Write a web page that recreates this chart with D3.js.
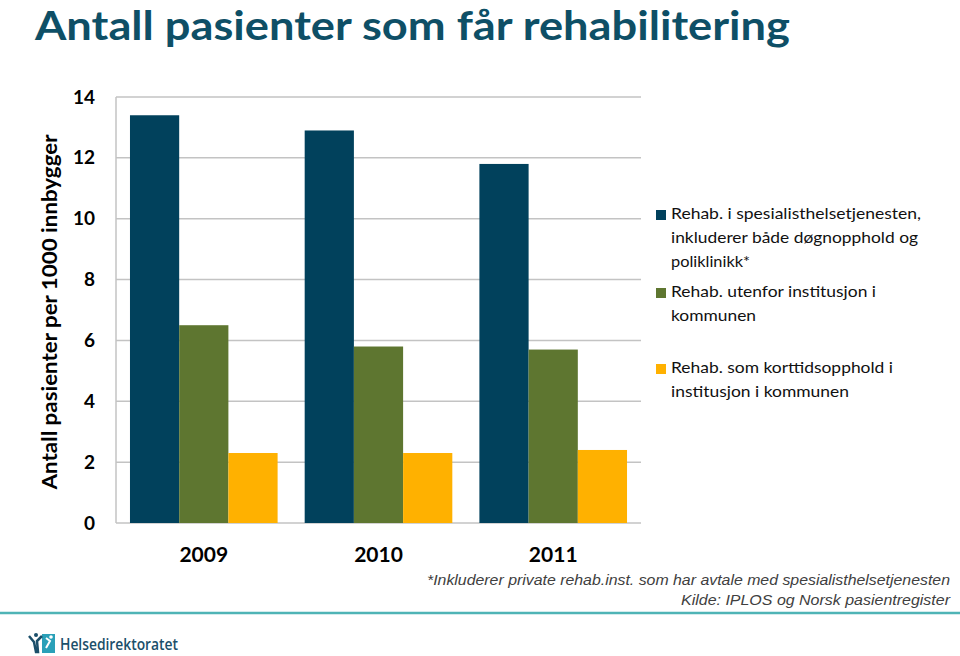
<!DOCTYPE html>
<html><head><meta charset="utf-8">
<script src="https://cdn.jsdelivr.net/npm/d3@7"></script>
<style>body{margin:0;background:#fff;}svg{display:block;}</style>
</head><body>
<svg id="c" width="960" height="656"></svg>
<script>
const years = ["2009", "2010", "2011"];
const seriesNames = ["spesialist", "utenfor", "korttid"];
const spesialist = [13.4, 12.9, 11.8];
const utenfor = [6.5, 5.8, 5.7];
const korttid = [2.3, 2.3, 2.4];
const yTicks = [0, 2, 4, 6, 8, 10, 12, 14];
const colors = ["#01415c", "#5e7630", "#ffb100"];
const legendLines = [
  ["Rehab. i spesialisthelsetjenesten,", "inkluderer både døgnopphold og", "poliklinikk*"],
  ["Rehab. utenfor institusjon i", "kommunen"],
  ["Rehab. som korttidsopphold i", "institusjon i kommunen"]
];
const title = "Antall pasienter som får rehabilitering";
const yTitle = "Antall pasienter per 1000 innbygger";
const notes = ["*Inkluderer private rehab.inst. som har avtale med spesialisthelsetjenesten", "Kilde: IPLOS og Norsk pasientregister"];

const values = [spesialist, utenfor, korttid];
const svg = d3.select("#c");

// title
svg.append("text").attr("x", 35).attr("y", 40)
  .attr("font-family", "Lato, 'Open Sans', sans-serif").attr("font-weight", "bold")
  .attr("font-size", 40).attr("fill", "#0e4f66")
  .attr("textLength", 755).attr("lengthAdjust", "spacingAndGlyphs")
  .text(title);

const L = 116, R = 641, T = 97, B = 523;
const y = d3.scaleLinear().domain([0, 14]).range([B, T]);
const x0 = d3.scaleBand().domain(years).range([L, R]).paddingInner(0.155).paddingOuter(0.08);
const x1 = d3.scaleBand().domain(seriesNames).range([0, x0.bandwidth()]);

// gridlines
const g = svg.append("g");
g.selectAll("line.grid").data(yTicks).join("line")
  .attr("x1", L).attr("x2", R).attr("y1", d => y(d)).attr("y2", d => y(d))
  .attr("stroke", "#c3c3c3").attr("stroke-width", 1.5);
g.append("line").attr("x1", L).attr("x2", L).attr("y1", T).attr("y2", B)
  .attr("stroke", "#c3c3c3").attr("stroke-width", 1.5);

// y axis labels
const yAxis = d3.axisLeft(y).tickValues(yTicks).tickSize(0).tickPadding(0);
const ya = svg.append("g").attr("transform", `translate(${95},0)`).call(yAxis);
ya.select(".domain").remove();
ya.selectAll("text").attr("font-family", "Lato, sans-serif").attr("font-weight", "bold")
  .attr("font-size", 19).attr("fill", "#000");

// x axis labels
const xAxis = d3.axisBottom(x0).tickSize(0).tickPadding(0);
const xa = svg.append("g").attr("transform", `translate(0,${547})`).call(xAxis);
xa.select(".domain").remove();
xa.selectAll("text").attr("font-family", "Lato, sans-serif").attr("font-weight", "bold")
  .attr("font-size", 21).attr("fill", "#000");

// bars
const groups = svg.append("g").selectAll("g").data(years).join("g")
  .attr("transform", d => `translate(${x0(d)},0)`);
groups.selectAll("rect").data((d, i) => seriesNames.map((s, j) => ({s, v: values[j][i], j})))
  .join("rect")
  .attr("x", d => x1(d.s)).attr("width", x1.bandwidth())
  .attr("y", d => y(d.v)).attr("height", d => y(0) - y(d.v))
  .attr("fill", d => colors[d.j]);

// y title
svg.append("text").attr("transform", "translate(57,312) rotate(-90)")
  .attr("text-anchor", "middle").attr("font-family", "Lato, sans-serif")
  .attr("font-weight", "bold").attr("font-size", 20).attr("fill", "#000")
  .attr("textLength", 355).attr("lengthAdjust", "spacingAndGlyphs")
  .text(yTitle);

// legend
const legY = [219, 297, 373];
const lineW = [[250, 247, 79], [205, 85], [222, 178]];
const leg = svg.append("g");
legendLines.forEach((lines, i) => {
  leg.append("rect").attr("x", 656).attr("y", legY[i] - 9).attr("width", 10).attr("height", 10).attr("fill", colors[i]);
  lines.forEach((t, k) => {
    leg.append("text").attr("x", 671).attr("y", legY[i] + k * 24)
      .attr("font-family", "Lato, 'Open Sans', sans-serif").attr("font-size", 16).attr("fill", "#111")
      .attr("textLength", lineW[i][k]).attr("lengthAdjust", "spacingAndGlyphs")
      .text(t);
  });
});

// notes
const noteW = [523, 269];
notes.forEach((t, i) => {
  svg.append("text").attr("x", 950).attr("y", 585 + i * 20).attr("text-anchor", "end")
    .attr("font-family", "'Liberation Sans', Arial, sans-serif").attr("font-style", "italic")
    .attr("font-size", 15).attr("fill", "#404040")
    .attr("textLength", noteW[i]).attr("lengthAdjust", "spacingAndGlyphs")
    .text(t);
});

// teal line
svg.append("line").attr("x1", 0).attr("x2", 960).attr("y1", 613).attr("y2", 613)
  .attr("stroke", "#4fb4b6").attr("stroke-width", 2.5);

// logo
const logo = svg.append("g");
logo.append("rect").attr("x", 42).attr("y", 634).attr("width", 13).attr("height", 19).attr("fill", "#2aa0b8");
logo.append("path").attr("d", "M29,636 L34,642 L36,652 L38,652 L37,641 L42,636")
  .attr("fill", "none").attr("stroke", "#1b4f6a").attr("stroke-width", 2.5);
logo.append("circle").attr("cx", 36).attr("cy", 635).attr("r", 2).attr("fill", "#1b4f6a");
logo.append("path").attr("d", "M46,648 L50,641 L46,638").attr("fill", "none").attr("stroke", "#fff").attr("stroke-width", 2);
logo.append("circle").attr("cx", 51).attr("cy", 637).attr("r", 1.8).attr("fill", "#fff");
logo.append("text").attr("x", 60).attr("y", 650)
  .attr("font-family", "'Open Sans', sans-serif").attr("font-weight", 600).attr("font-size", 16)
  .attr("fill", "#1b4f6a").attr("textLength", 118).attr("lengthAdjust", "spacingAndGlyphs")
  .text("Helsedirektoratet");
</script>
</body></html>
